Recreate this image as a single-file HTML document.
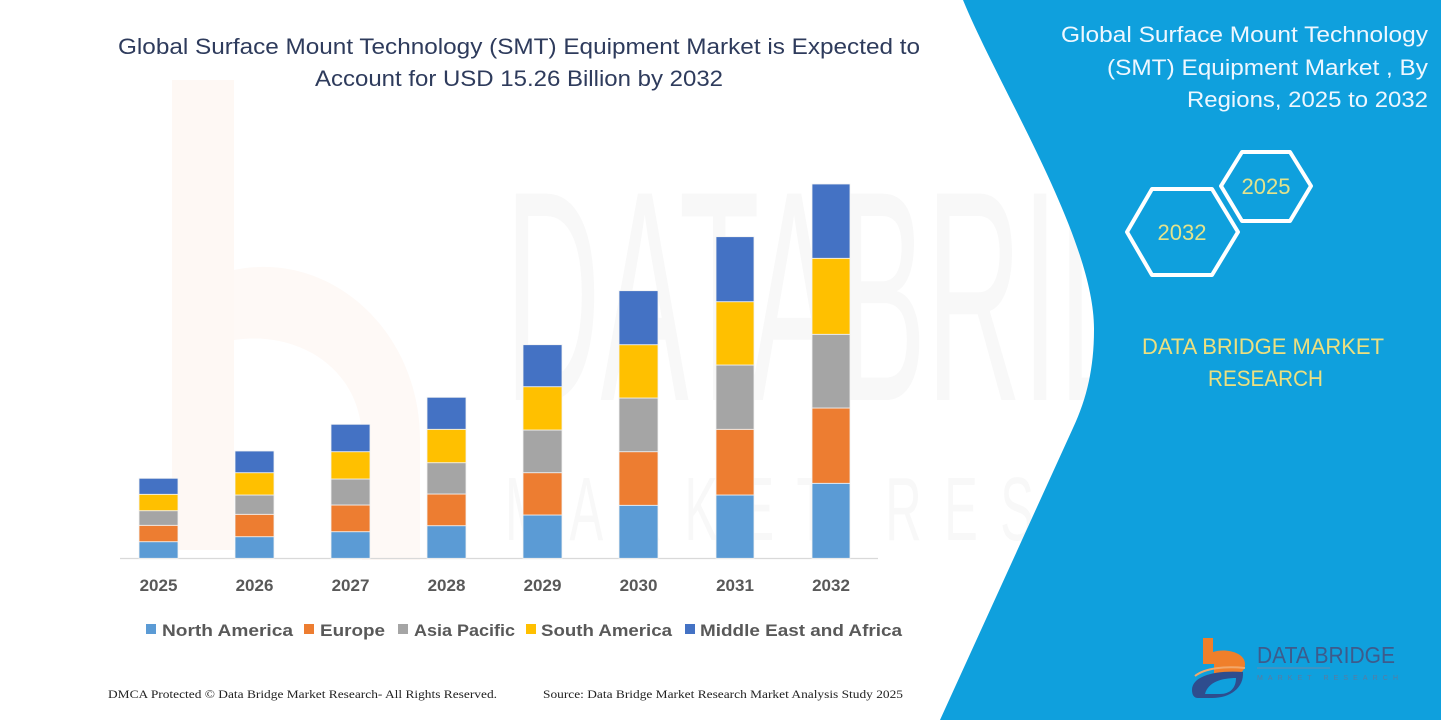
<!DOCTYPE html>
<html><head><meta charset="utf-8"><style>
html,body{margin:0;padding:0;background:#fff;}
svg{display:block;}
</style></head><body>
<svg width="1441" height="720" viewBox="0 0 1441 720" xmlns="http://www.w3.org/2000/svg">
<rect x="0" y="0" width="1441" height="720" fill="#ffffff"/>
<!-- watermark -->
<g>
  <rect x="172" y="80" width="62" height="470" fill="#fef8f4"/>
  <path d="M234 270 C 330 250, 420 330, 420 440 L 420 560 L 362 560 L 362 440 C 362 370, 300 330, 234 340 Z" fill="#fef9f6"/>
  <text x="505" y="400" font-family="Liberation Sans, sans-serif" font-size="300" fill="#f8f8f8" textLength="840" lengthAdjust="spacingAndGlyphs">DATABRIDGE</text>
  <text x="505" y="540" font-family="Liberation Sans, sans-serif" font-size="90" fill="#f8f8f8" textLength="840" lengthAdjust="spacingAndGlyphs" letter-spacing="40">MARKET RESEARCH</text>
</g>
<!-- blue panel -->
<path d="M963,0 C 1000,90 1095,240 1094,330 C 1094,370 1086,400 1073,428 L 940,720 L 1441,720 L 1441,0 Z" fill="#0fa0dd"/>

<!-- title -->
<g font-family="Liberation Sans, sans-serif" fill="#2e3b5c" font-size="22">
  <text x="118" y="54" textLength="802" lengthAdjust="spacingAndGlyphs">Global Surface Mount Technology (SMT) Equipment Market is Expected to</text>
  <text x="315" y="86" textLength="408" lengthAdjust="spacingAndGlyphs">Account for USD 15.26 Billion by 2032</text>
</g>

<!-- axis -->
<line x1="120" y1="558.5" x2="878" y2="558.5" stroke="#d9d9d9" stroke-width="1.2"/>

<!-- bars -->
<g stroke="#f2f2f2" stroke-width="0.8">
  <rect x="139" y="541.7" width="39" height="16.6" fill="#5b9bd5"/>
  <rect x="139" y="525.3" width="39" height="16.4" fill="#ed7d31"/>
  <rect x="139" y="510.7" width="39" height="14.6" fill="#a5a5a5"/>
  <rect x="139" y="494.3" width="39" height="16.4" fill="#ffc000"/>
  <rect x="139" y="478.3" width="39" height="16" fill="#4472c4"/>
  <rect x="235" y="536.7" width="39" height="21.6" fill="#5b9bd5"/>
  <rect x="235" y="514.3" width="39" height="22.4" fill="#ed7d31"/>
  <rect x="235" y="495" width="39" height="19.3" fill="#a5a5a5"/>
  <rect x="235" y="472.7" width="39" height="22.3" fill="#ffc000"/>
  <rect x="235" y="451" width="39" height="21.7" fill="#4472c4"/>
  <rect x="331" y="531.7" width="39" height="26.6" fill="#5b9bd5"/>
  <rect x="331" y="505" width="39" height="26.7" fill="#ed7d31"/>
  <rect x="331" y="479" width="39" height="26" fill="#a5a5a5"/>
  <rect x="331" y="451.7" width="39" height="27.3" fill="#ffc000"/>
  <rect x="331" y="424.3" width="39" height="27.4" fill="#4472c4"/>
  <rect x="427" y="525.7" width="39" height="32.6" fill="#5b9bd5"/>
  <rect x="427" y="494" width="39" height="31.7" fill="#ed7d31"/>
  <rect x="427" y="462.7" width="39" height="31.3" fill="#a5a5a5"/>
  <rect x="427" y="429.3" width="39" height="33.4" fill="#ffc000"/>
  <rect x="427" y="397.3" width="39" height="32" fill="#4472c4"/>
  <rect x="523" y="515" width="39" height="43.3" fill="#5b9bd5"/>
  <rect x="523" y="472.7" width="39" height="42.3" fill="#ed7d31"/>
  <rect x="523" y="430" width="39" height="42.7" fill="#a5a5a5"/>
  <rect x="523" y="386.7" width="39" height="43.3" fill="#ffc000"/>
  <rect x="523" y="344.7" width="39" height="42" fill="#4472c4"/>
  <rect x="619" y="505.3" width="39" height="53" fill="#5b9bd5"/>
  <rect x="619" y="451.7" width="39" height="53.6" fill="#ed7d31"/>
  <rect x="619" y="398" width="39" height="53.7" fill="#a5a5a5"/>
  <rect x="619" y="344.7" width="39" height="53.3" fill="#ffc000"/>
  <rect x="619" y="290.7" width="39" height="54" fill="#4472c4"/>
  <rect x="716" y="495" width="38" height="63.3" fill="#5b9bd5"/>
  <rect x="716" y="429.3" width="38" height="65.7" fill="#ed7d31"/>
  <rect x="716" y="365" width="38" height="64.3" fill="#a5a5a5"/>
  <rect x="716" y="301.7" width="38" height="63.3" fill="#ffc000"/>
  <rect x="716" y="236.7" width="38" height="65" fill="#4472c4"/>
  <rect x="812" y="483.3" width="38" height="75" fill="#5b9bd5"/>
  <rect x="812" y="408" width="38" height="75.3" fill="#ed7d31"/>
  <rect x="812" y="334.3" width="38" height="73.7" fill="#a5a5a5"/>
  <rect x="812" y="258.3" width="38" height="76" fill="#ffc000"/>
  <rect x="812" y="184" width="38" height="74.3" fill="#4472c4"/>
</g>

<!-- year labels -->
<g font-family="Liberation Sans, sans-serif" font-weight="bold" font-size="17" fill="#595959" text-anchor="middle">
  <text x="158.5" y="591">2025</text>
  <text x="254.5" y="591">2026</text>
  <text x="350.5" y="591">2027</text>
  <text x="446.5" y="591">2028</text>
  <text x="542.5" y="591">2029</text>
  <text x="638.5" y="591">2030</text>
  <text x="735" y="591">2031</text>
  <text x="831" y="591">2032</text>
</g>

<!-- legend -->
<g font-family="Liberation Sans, sans-serif" font-weight="bold" font-size="17" fill="#595959">
  <rect x="146" y="624" width="10" height="10" fill="#5b9bd5"/>
  <text x="162" y="636" textLength="131" lengthAdjust="spacingAndGlyphs">North America</text>
  <rect x="304" y="624" width="10" height="10" fill="#ed7d31"/>
  <text x="320" y="636" textLength="65" lengthAdjust="spacingAndGlyphs">Europe</text>
  <rect x="398" y="624" width="10" height="10" fill="#a5a5a5"/>
  <text x="414" y="636" textLength="101" lengthAdjust="spacingAndGlyphs">Asia Pacific</text>
  <rect x="526" y="624" width="10" height="10" fill="#ffc000"/>
  <text x="541" y="636" textLength="131" lengthAdjust="spacingAndGlyphs">South America</text>
  <rect x="685" y="624" width="10" height="10" fill="#4472c4"/>
  <text x="700" y="636" textLength="202" lengthAdjust="spacingAndGlyphs">Middle East and Africa</text>
</g>

<!-- footer -->
<g font-family="Liberation Serif, serif" font-size="12" fill="#222">
  <text x="108" y="698" textLength="389" lengthAdjust="spacingAndGlyphs">DMCA Protected © Data Bridge Market Research-  All Rights Reserved.</text>
  <text x="543" y="698" textLength="360" lengthAdjust="spacingAndGlyphs">Source: Data Bridge Market Research  Market Analysis Study 2025</text>
</g>

<!-- right header -->
<g font-family="Liberation Sans, sans-serif" font-size="22" fill="#eef7ff" text-anchor="end">
  <text x="1428" y="42" textLength="367" lengthAdjust="spacingAndGlyphs">Global Surface Mount Technology</text>
  <text x="1428" y="75" textLength="321" lengthAdjust="spacingAndGlyphs">(SMT) Equipment Market , By</text>
  <text x="1428" y="107" textLength="241" lengthAdjust="spacingAndGlyphs">Regions, 2025 to 2032</text>
</g>

<!-- hexagons -->
<g fill="none" stroke="#ffffff" stroke-width="4" stroke-linejoin="round">
  <polygon points="1127,232 1152,189 1212,189 1238,232 1212,275 1152,275"/>
  <polygon points="1221,186 1242,152 1290,152 1311,186 1290,221 1242,221"/>
</g>
<g font-family="Liberation Sans, sans-serif" font-size="22" fill="#e3e38c" text-anchor="middle">
  <text x="1182" y="240">2032</text>
  <text x="1266" y="194">2025</text>
</g>

<!-- DATA BRIDGE MARKET RESEARCH -->
<g font-family="Liberation Sans, sans-serif" font-size="22" fill="#ede07f">
  <text x="1142" y="354" textLength="242" lengthAdjust="spacingAndGlyphs">DATA BRIDGE MARKET</text>
  <text x="1208" y="386" textLength="115" lengthAdjust="spacingAndGlyphs">RESEARCH</text>
</g>

<!-- logo -->
<g>
  <path d="M1203,638 L1213,638 L1213,652 C1225,648 1245,652 1245,664 C1245,672 1238,676 1230,676 L1214,676 L1214,664 L1203,664 Z" fill="#f07f2a"/>
  <path d="M1195,676 C1205,668 1225,666 1245,668" stroke="#f2a86a" stroke-width="2" fill="none"/>
  <path d="M1192,690 C1192,676 1215,670 1243,672 C1244,688 1230,698 1212,698 L1198,698 C1194,698 1192,695 1192,690 Z M1205,694 L1220,694 C1230,694 1236,688 1236,678 C1222,678 1208,682 1205,694 Z" fill="#2e4d8e" fill-rule="evenodd"/>
  <text x="1257" y="663" font-family="Liberation Sans, sans-serif" font-size="23" fill="#3d5b8c" textLength="138" lengthAdjust="spacingAndGlyphs">DATA BRIDGE</text>
  <line x1="1257" y1="668" x2="1330" y2="668" stroke="#6f88aa" stroke-width="1"/>
  <text x="1257" y="680" font-family="Liberation Sans, sans-serif" font-size="7" fill="#5c7aa0" textLength="141" lengthAdjust="spacing">MARKET RESEARCH</text>
</g>
</svg>
</body></html>
